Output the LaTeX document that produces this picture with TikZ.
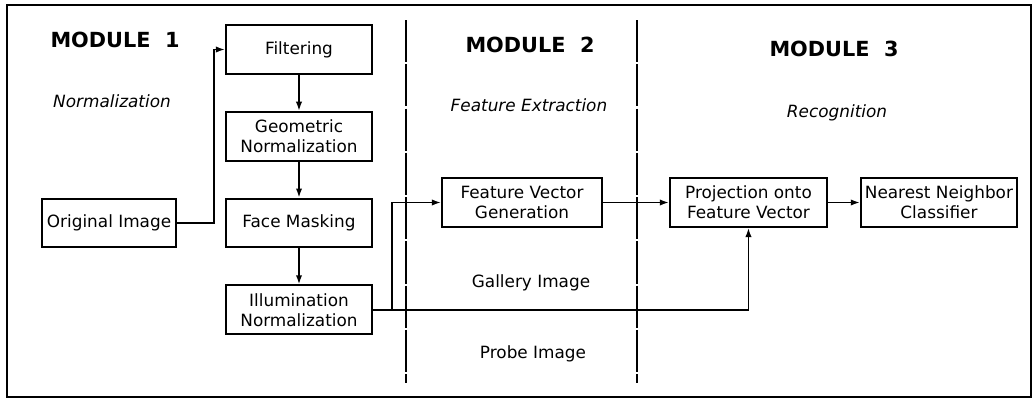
\documentclass[tikz,border=0pt]{standalone}
\usepackage{fontspec}
\setmainfont{DejaVu Sans}
\usetikzlibrary{arrows.meta, positioning, calc}

\begin{document}
\begin{tikzpicture}[
    node distance=0.9cm,
    stagebox/.style={rectangle, draw, line width=1.4pt, minimum width=3.65cm, minimum height=1.22cm,
                     inner xsep=2pt, align=center, font=\fontsize{12}{14.2}\selectfont},
    modtitle/.style={font=\fontsize{14.8}{18}\selectfont\bfseries},
    modsub/.style={font=\fontsize{12}{14}\selectfont\itshape},
    setlabel/.style={font=\fontsize{12}{14}\selectfont},
    flow/.style={line width=1.2pt, -{Latex[length=6.5pt,width=4.5pt]}},
    divider/.style={line width=0.8pt, dash pattern=on 30pt off 1.5pt}
]
    \useasboundingbox (0,0) rectangle (25.9,9.975);
    \draw[line width=1.7pt] (0.175,0.05) rectangle (25.775,9.85);

    % Module dividers
    \draw[divider] (10.15,9.475) -- (10.15,0.4);
    \draw[divider] (15.925,9.475) -- (15.925,0.4);

    % Module headings
    \node[modtitle] (mod1) at (2.875,8.975) {MODULE\ \ 1};
    \node[modsub] (norm) at (2.8,7.45) {Normalization};
    \node[modtitle] (mod2) at (13.25,8.85) {MODULE\ \ 2};
    \node[modsub] (featx) at (13.225,7.35) {Feature Extraction};
    \node[modtitle] (mod3) at (20.85,8.75) {MODULE\ \ 3};
    \node[modsub] (recog) at (20.925,7.15) {Recognition};

    % Normalization chain
    \node[stagebox] (filt) at (7.475,8.7375) {Filtering};
    \node[stagebox, below=of filt] (geom) {Geometric\\Normalization};
    \node[stagebox, below=of geom] (mask) {Face Masking};
    \node[stagebox, below=of mask] (illum) {Illumination\\Normalization};
    \node[stagebox, minimum width=3.35cm, left=1.2cm of mask] (orig) {Original Image};

    % Feature extraction and recognition
    \node[stagebox, minimum width=4cm] (fvg) at (13.05,4.9125) {Feature Vector\\Generation};
    \node[stagebox, minimum width=3.925cm, right=1.65cm of fvg] (proj) {Projection onto\\Feature Vector};
    \node[stagebox, minimum width=3.9cm, right=0.8cm of proj] (nn) {Nearest Neighbor\\Classifier};

    % Gallery / probe labels
    \node[setlabel] (gallery) at (13.275,2.9) {Gallery Image};
    \node[setlabel] (probe) at (13.325,1.125) {Probe Image};

    % Connectors
    \draw[flow] (orig.east) -- ++(0.925,0) |- (filt.west);
    \draw[flow] (filt) -- (geom);
    \draw[flow] (geom) -- (mask);
    \draw[flow] (mask) -- (illum);
    \coordinate (branch) at ([xshift=0.475cm]illum.east);
    \draw[flow] (illum.east) -| (proj.south);
    \draw[flow] (branch) |- (fvg.west);
    \draw[flow] (fvg) -- (proj);
    \draw[flow] (proj) -- (nn);
\end{tikzpicture}
\end{document}
